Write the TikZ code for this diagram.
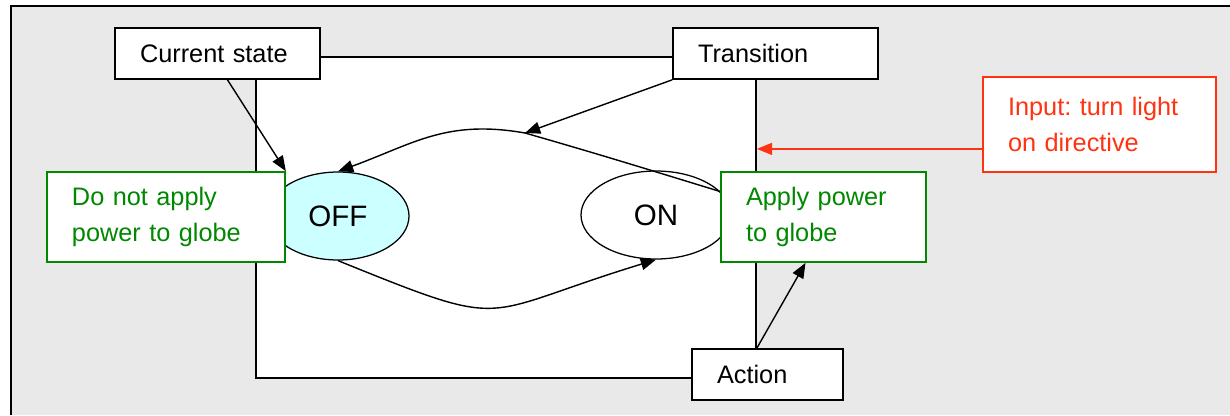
\documentclass[tikz,border=0pt]{standalone}
\usepackage{fontspec}
\setmainfont{Liberation Sans}
\usetikzlibrary{arrows.meta,shapes.geometric}

\definecolor{fondgris}{RGB}{233,233,233}
\definecolor{vertnote}{RGB}{0,136,0}
\definecolor{rougeinput}{RGB}{255,51,17}
\definecolor{cyanetat}{RGB}{204,255,255}

\tikzset{etiq/.style = {draw, fill=white, line width=1.2pt, minimum height=12.75mm,
                        inner ysep=0pt, inner xsep=6.25mm, text width=#1, align=left},
         etiq/.default=38.75mm,
         note/.style = {etiq=#1, draw=vertnote, text=vertnote, minimum height=22.5mm},
         etat/.style = {ellipse, draw, line width=0.9pt, inner sep=0pt,
                        minimum width=#1, minimum height=22mm,
                        font=\fontsize{21}{25}\selectfont},
         etat/.default=35.5mm,
         fleche/.style = {line width=1pt, -{Triangle[length=3.8mm,width=3mm]}}
        }

\begin{document}
\begin{tikzpicture}[x=0.25mm, y=0.25mm, font=\fontsize{18}{25}\selectfont\frenchspacing]
  \useasboundingbox (0, 0) rectangle (1230, -415);
  % fond et cadre
  \fill[fondgris] (11, -6) rectangle (1230, -415);
  \draw[line width=1.4pt] (11, -415) -- (11, -6) -- (1230, -6);
  \node[draw, fill=white, line width=1.2pt, minimum width=125mm, minimum height=80.25mm,
        inner sep=0pt] (canvas) at (506, -217.5) {};

  % etiquettes
  \node[etiq] (cur) at (217.5, -53.5) {Current state};
  \node[etiq] (trans) at (775.5, -53.5) {Transition};
  \node[etiq=25.25mm] (action) at (767.5, -374.5) {Action};

  % etats
  \node[etat, fill=cyanetat] (off) at (338, -216) {OFF};
  \node[etat=37.5mm, fill=white] (on) at (656, -215) {ON};

  \coordinate (hit) at (525, -133);
  \draw[line width=1pt] (on.20) to[out=163, in=-16] (hit);
  \draw[fleche] (hit) .. controls +(170:80) and +(20:80) .. (off.north);
  \draw[fleche] (off.south) .. controls +(-22:190) and +(197:190) .. (on.south);

  % notes
  \node[note=47mm] (dnote) at (166, -217) {Do not apply\\power to globe};
  \node[note] (anote) at (823.5, -217) {Apply power\\to globe};

  \draw[fleche] ([xshift=2.5mm]cur.south) -- (dnote.north east);
  \draw[fleche] (trans.south west) -- (hit);
  \draw[fleche] (action.north -| canvas.east) -- ([xshift=-4.5mm]anote.south);

  % entree
  \node[etiq=45.75mm, draw=rougeinput, text=rougeinput, minimum height=23.75mm]
       (input) at (1099.5, -124.5) {Input: turn light\\on directive};
  \draw[fleche, rougeinput] ([yshift=-6.1mm]input.west) -- ([yshift=-6.1mm]input.west -| canvas.east);
\end{tikzpicture}
\end{document}
